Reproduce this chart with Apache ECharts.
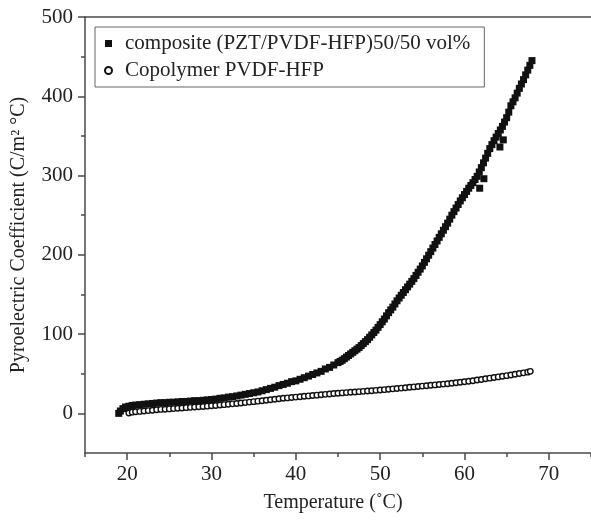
<!DOCTYPE html>
<html>
<head>
<meta charset="utf-8">
<script src="https://cdn.jsdelivr.net/npm/echarts@6/dist/echarts.min.js"></script>
<style>html,body{margin:0;padding:0;background:#fff;}#c{width:591px;height:521px;}</style>
</head>
<body>
<div id="c"></div>
<script>
// Composite (PZT/PVDF-HFP) 50/50 vol%  -- temperature (°C) and pyroelectric coefficient
const compTemp = [19.0,19.2,19.5,19.8,20.2,20.6,21.0,21.5,22.0,22.5,23.0,23.5,24.0,24.5,25.0,25.5,26.0,26.5,27.0,27.5,28.0,28.5,29.0,29.5,30.0,30.5,31.0,31.5,32.0,32.5,33.0,33.5,34.0,34.5,35.0,35.5,36.0,36.5,37.0,37.5,38.0,38.5,39.0,39.5,40.0,40.5,41.0,41.5,42.0,42.5,43.0,43.5,44.0,44.5,
  45.0,45.25,45.5,45.75,46.0,46.25,46.5,46.75,47.0,47.25,47.5,47.75,48.0,48.25,48.5,48.75,49.0,49.25,49.5,49.75,50.0,50.25,50.5,50.75,51.0,51.25,51.5,51.75,52.0,52.25,52.5,52.75,53.0,53.25,53.5,53.75,54.0,54.25,54.5,54.75,55.0,55.25,55.5,55.75,56.0,56.25,56.5,56.75,57.0,57.25,57.5,57.75,58.0,58.25,58.5,58.75,59.0,59.25,59.5,59.75,60.0,60.25,60.5,60.75,61.0,61.25,61.5,61.75,62.0,62.25,62.5,62.75,63.0,63.25,63.5,63.75,64.0,64.25,64.5,64.75,65.0,65.25,65.5,65.75,66.0,66.25,66.5,66.75,67.0,67.25,67.5,67.75,68.0,
  61.8,62.3,64.2,64.6];
const compCoef = [0,3,6,8,9,10,10.5,11,11.5,12,12.5,13,13.5,13.5,14,14,14.5,15,15,15.5,16,16,16.5,17,17.5,18,19,19.5,20.5,21,22,23,24,25,26,27,28.5,30,31.5,33,35,36.5,38,40,41,43,45,47,49,51,53,56,58,61,
  64,65.5,67,69,71,73,75,77,79,81,83,85.5,88,90.5,93,96,99,102,105,108.5,112,115.5,119,123,127,130.5,134,138,142,145.5,149,152.5,156,159.5,163,166.5,170,174,178,182,186,190.5,195,199.5,204,208.5,213,217.5,222,226.5,231,235.5,240,245,250,254.5,259,263.5,268,272,276,280,284,287.5,291,295,299,304.5,310,316,322,328,334,339,344,348.5,353,357.5,362,367.5,373,380,388,393,398,404,410,415.5,421,427,433,439,445,
  284,296,336,345];

// Copolymer PVDF-HFP
const copoTemp = [20.2,20.6,21.0,21.5,22.0,22.5,23.0,23.5,24.0,24.5,25.0,25.5,26.0,26.5,27.0,27.5,28.0,28.5,29.0,29.5,30.0,30.5,31.0,31.5,32.0,32.5,33.0,33.5,34.0,34.5,35.0,35.5,36.0,36.5,37.0,37.5,38.0,38.5,39.0,39.5,40.0,40.5,41.0,41.5,42.0,42.5,43.0,43.5,44.0,44.5,45.0,45.5,46.0,46.5,47.0,47.5,48.0,48.5,49.0,49.5,50.0,50.5,51.0,51.5,52.0,52.5,53.0,53.5,54.0,54.5,55.0,55.5,56.0,56.5,57.0,57.5,58.0,58.5,59.0,59.5,60.0,60.5,61.0,61.5,62.0,62.5,63.0,63.5,64.0,64.5,65.0,65.5,66.0,66.5,67.0,67.5,67.8];
const copoCoef = [0.5,1.5,2,2.5,3,3.5,4,4.5,5,5.2,5.6,6,6.5,6.8,7.2,7.6,8,8.3,8.7,9.1,9.6,10,10.5,11,11.5,12,12.5,13,13.6,14.2,14.8,15.4,16,16.6,17.2,17.8,18.4,19,19.5,20,20.5,21,21.5,22,22.5,23,23.5,24,24.5,25,25.4,25.8,26.2,26.6,27,27.4,27.8,28.2,28.6,29,29.4,29.9,30.4,30.9,31.4,31.9,32.4,32.9,33.4,33.9,34.4,34.9,35.4,35.9,36.4,36.9,37.4,38,38.6,39.2,39.8,40.5,41.2,42,42.8,43.6,44.4,45.2,46,46.8,47.6,48.4,49.3,50.2,51.1,52,53];

const seriesNames = ['composite (PZT/PVDF-HFP)50/50 vol%', 'Copolymer PVDF-HFP'];
const xMajorTicks = [20,30,40,50,60,70];
const xMinorTicks = [15,25,35,45,55,65,75];
const yMajorTicks = [0,100,200,300,400,500];
const yMinorTicks = [50,150,250,350,450];

const FONT = '"Liberation Serif", "Times New Roman", serif';
const AX = '#4a4a4a';
const TXT = '#222';

const chart = echarts.init(document.getElementById('c'), null, {renderer:'canvas'});
const xBase = {type:'value', min:15, max:75, splitLine:{show:false}};
const yBase = {type:'value', min:-50, max:500, splitLine:{show:false}};
chart.setOption({
  animation:false,
  backgroundColor:'#fff',
  grid:{left:85, right:0, top:17, bottom:68},
  legend:{
    left:95, top:27, orient:'vertical',
    itemWidth:7, itemHeight:7, itemGap:2,
    padding:[4,14,4,9],
    borderColor:'#666', borderWidth:1,
    textStyle:{fontSize:21, fontFamily:FONT, color:TXT, lineHeight:25, padding:[0,0,0,8]},
    data:[{name:seriesNames[0], icon:'rect'},{name:seriesNames[1], icon:'circle'}]
  },
  xAxis:[
    Object.assign({}, xBase, {
      position:'bottom',
      axisLine:{onZero:false, lineStyle:{color:AX, width:1.5}},
      axisTick:{customValues:xMajorTicks, length:7, lineStyle:{color:AX, width:1.5}},
      axisLabel:{customValues:xMajorTicks, margin:11, fontSize:21, fontFamily:FONT, color:TXT},
      name:'Temperature (˚C)', nameLocation:'middle', nameGap:40,
      nameTextStyle:{fontSize:20, fontFamily:FONT, color:TXT, padding:[0,10,0,0]}
    }),
    Object.assign({}, xBase, {
      position:'bottom',
      axisLine:{show:false, onZero:false},
      axisTick:{customValues:xMinorTicks, length:4, lineStyle:{color:AX, width:1.5}},
      axisLabel:{show:false}
    }),
    Object.assign({}, xBase, {
      position:'top',
      axisLine:{show:true, onZero:false, lineStyle:{color:AX, width:1.5}},
      axisTick:{show:false},
      axisLabel:{show:false}
    })
  ],
  yAxis:[
    Object.assign({}, yBase, {
      position:'left',
      axisLine:{show:true, onZero:false, lineStyle:{color:AX, width:1.5}},
      axisTick:{show:true, customValues:yMajorTicks, length:7, lineStyle:{color:AX, width:1.5}},
      axisLabel:{customValues:yMajorTicks, margin:12, fontSize:21, fontFamily:FONT, color:TXT},
      name:'Pyroelectric Coefficient (C/m² °C)', nameLocation:'middle', nameGap:56,
      nameTextStyle:{fontSize:20, fontFamily:FONT, color:TXT}
    }),
    Object.assign({}, yBase, {
      position:'left',
      axisLine:{show:false, onZero:false},
      axisTick:{show:true, customValues:yMinorTicks, length:4, lineStyle:{color:AX, width:1.5}},
      axisLabel:{show:false}
    })
  ],
  series:[
    {
      type:'scatter', name:seriesNames[0], xAxisIndex:0, yAxisIndex:0,
      data:compTemp.map((t,i)=>[t, compCoef[i]]),
      symbol:'rect', symbolSize:7,
      itemStyle:{color:'#111', opacity:1}
    },
    {
      type:'scatter', name:seriesNames[1], xAxisIndex:0, yAxisIndex:0,
      data:copoTemp.map((t,i)=>[t, copoCoef[i]]),
      symbol:'circle', symbolSize:5.5,
      itemStyle:{color:'#fff', borderColor:'#111', borderWidth:1.4, opacity:1}
    }
  ]
});
</script>
</body>
</html>
